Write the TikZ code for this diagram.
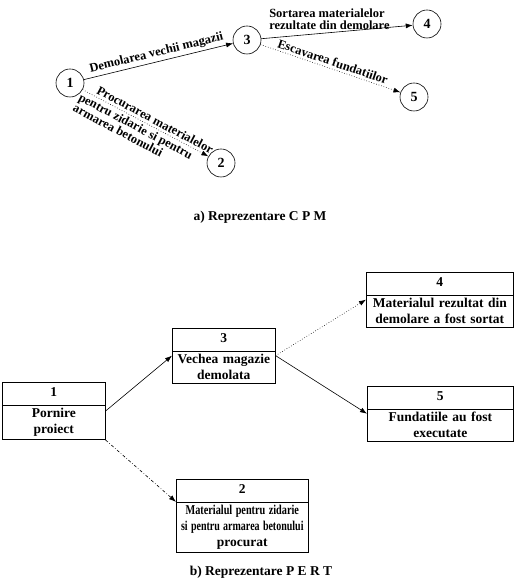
\documentclass[tikz,border=0pt]{standalone}
\usepackage{fontspec}
\usepackage{graphicx}
\setmainfont{Liberation Serif}
\usetikzlibrary{positioning, arrows.meta, shapes.multipart}

\newcommand{\boxfont}{\fontsize{13.5}{16}\selectfont\bfseries}

\begin{document}
\begin{tikzpicture}[x=1pt, y=1pt,
    every node/.style={font=\bfseries},
    event/.style={draw, circle, minimum size=28pt, inner sep=0pt, line width=0.6pt,
      font=\fontsize{14}{16}\selectfont\bfseries},
    lbl/.style={font=\fontsize{12.5}{12}\selectfont\bfseries, inner sep=2.5pt},
    act/.style={-{Latex[length=7pt, width=5pt]}, line width=0.6pt},
    stage/.style={draw, rectangle split, rectangle split parts=2, align=center,
      anchor=north west, inner xsep=2pt, inner ysep=3pt, line width=0.6pt,
      font=\boxfont},
    caption/.style={font=\fontsize{13.5}{16}\selectfont\bfseries},
  ]
  \useasboundingbox (0,0) rectangle (522,586);

  \node[event] (e1) at (70,503) {1};
  \node[event] (e3) at (247,546) {3};
  \node[event] (e4) at (427,562) {4};
  \node[event] (e5) at (414,489) {5};
  \node[event] (e2) at (221,423) {2};

  \draw[act] (e1) -- node[lbl, sloped, above] {Demolarea vechii magazii} (e3);
  \draw[act] (e3) -- node[lbl, above, align=left, pos=0.45] {Sortarea materialelor\\rezultate din demolare} (e4);
  \draw[act, dotted] (e3) -- node[lbl, sloped, above] {Escavarea fundatiilor} (e5);
  \draw[act, dotted] (e1) -- node[lbl, sloped, above, pos=0.55] {Procurarea materialelor}
    node[lbl, sloped, below, align=left, pos=0.45] {pentru zidarie si pentru\\armarea betonului} (e2);

  \node[caption] (capa) at (260,369) {a) Reprezentare C P M};

  \node[stage, text width=99pt] (b1) at (2,204) {\strut 1 \nodepart{two} Pornire\\proiect};
  \node[stage, text width=99pt] (b3) at (172,258) {\strut 3 \nodepart{two} Vechea magazie\\demolata};
  \node[stage, text width=143pt] (b4) at (366,314) {\strut 4 \nodepart{two} Materialul rezultat din\\demolare a fost sortat};
  \node[stage, text width=142pt] (b5) at (367,200) {\strut 5 \nodepart{two} Fundatiile au fost\\executate};
  \node[stage, text width=128pt] (b2) at (176,107) {\strut 2 \nodepart{two}
    \scalebox{0.76}[1]{\boxfont Materialul pentru zidarie}\\
    \scalebox{0.74}[1]{\boxfont si pentru armarea betonului}\\procurat};

  \draw[act] (b1.east) -- (b3.west);
  \draw[act, dotted] (b3.east) -- (b4.west);
  \draw[act] (b3.east) -- (b5.west);
  \draw[act, dash dot] (b1.south east) -- (b2.text split west);

  \node[caption] (capb) at (261,14) {b) Reprezentare P E R T};
\end{tikzpicture}
\end{document}
